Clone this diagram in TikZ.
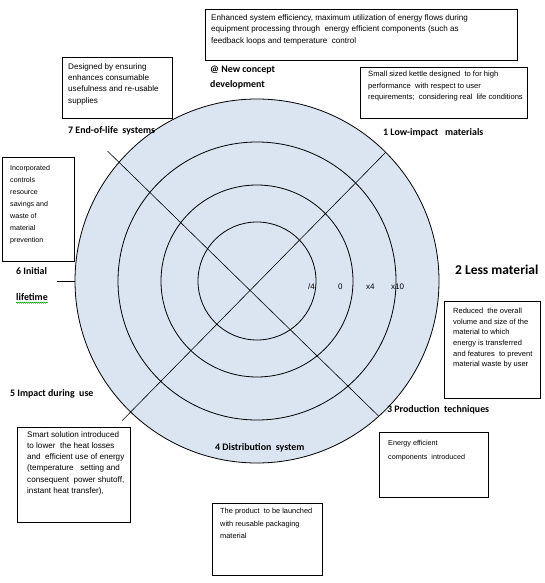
\documentclass[tikz,border=0pt]{standalone}
\usepackage{fontspec}
\setmainfont{Liberation Sans}
\newfontfamily\labfont{Carlito}
\usetikzlibrary{calc,decorations.pathmorphing}
\definecolor{ringfill}{HTML}{DBE5F1}
\begin{document}
\begin{tikzpicture}[x=1pt,y=-1pt,
  box/.style={draw=black, line width=0.8pt},
  btext/.style={anchor=north west, align=left, inner sep=0pt, font=\fontsize{7.6}{11.5}\selectfont},
  lab/.style={anchor=west, inner sep=0pt, font=\labfont\bfseries\fontsize{9.9}{11}\selectfont},
  biglab/.style={anchor=west, inner sep=0pt, font=\labfont\bfseries\fontsize{13.5}{15}\selectfont},
  scl/.style={anchor=west, inner sep=0pt, font=\fontsize{8}{10}\selectfont},
  ring/.style={circle, draw=black, line width=0.8pt, fill=ringfill, inner sep=0pt, outer sep=0pt},
  spoke/.style={draw=black, line width=0.6pt}]
\useasboundingbox (0,0) rectangle (544,583);
\coordinate (c) at (257,281);
% rings
\node[ring, minimum size=364pt] (r4) at (c) {};
\node[ring, minimum size=278pt] (r3) at (c) {};
\node[ring, minimum size=192pt] (r2) at (c) {};
\node[ring, minimum size=118pt] (r1) at (c) {};
% spokes
\coordinate (s7) at ($(c)+(134:194)$);
\coordinate (s3) at ($(c)+(-45:182)$);
\coordinate (s1) at ($(c)+(48:182)$);
\coordinate (s5) at ($(c)+(-139:198)$);
\draw[spoke] (s7) -- (s3);
\draw[spoke] (s1) -- (s5);
\coordinate (t6a) at (57,281);
\draw[spoke] (t6a) -- (r4.west);
% scale labels
\node[scl] (k1) at (308,287) {/4};
\node[scl] (k2) at (338,287) {0};
\node[scl] (k3) at (366,287) {x4};
\node[scl] (k4) at (391,287) {x10};
% axis labels
\node[lab, align=left, font=\labfont\bfseries\fontsize{9.9}{15}\selectfont, anchor=north west] (l0) at (210,66) {@ New concept\\development};
\node[lab] (l7) at (68,131) {7 End-of-life\ \ systems};
\node[lab] (l1) at (383,133) {1 Low-impact\ \ \ materials};
\node[lab] (l6a) at (16,271) {6 Initial};
\node[lab] (l6b) at (16,297) {lifetime};
\draw[green!60!black, line width=0.5pt, decorate, decoration={snake, amplitude=0.6pt, segment length=2pt}] ($(l6b.south west)+(0,2)$) -- ($(l6b.south east)+(0,2)$);
\node[biglab] (l2) at (455,270) {2 Less material};
\node[lab] (l5) at (10,394) {5 Impact\ during\ \ use};
\node[lab] (l3) at (387,410) {3 Production\ \ techniques};
\node[lab] (l4) at (215,448) {4 Distribution\ \ system};
% boxes
\draw[box] (205,9) rectangle (517,60);
\node[btext, font=\fontsize{8.1}{11.6}\selectfont] (t1) at (211,14) {Enhanced system efficiency, maximum utilization of energy flows during\\equipment processing through\ \ energy efficient components (such as\\feedback loops and temperature\ \ control};
\draw[box] (62,57) rectangle (172,118);
\node[btext, font=\fontsize{8.1}{11.4}\selectfont] (t2) at (68,63) {Designed by ensuring\\enhances consumable\\usefulness and re-usable\\supplies};
\draw[box] (360,67) rectangle (527,118);
\node[btext] (t3) at (368,71) {Small sized kettle designed\ \ to for high\\performance\ \ with respect to user\\requirements;\ \ considering real\ \ life conditions};
\draw[box] (2,157) rectangle (74,261);
\node[btext, font=\fontsize{7.1}{12}\selectfont] (t4) at (10,165) {Incorporated\\controls\\resource\\savings and\\waste of\\material\\prevention};
\draw[box] (444,301) rectangle (540,398);
\node[btext, font=\fontsize{7.5}{10.6}\selectfont] (t5) at (453,308) {Reduced\ \ the overall\\volume and size of the\\material to which\\energy is transferred\\and features\ \ to prevent\\material waste by user};
\draw[box] (17,427) rectangle (130,522);
\node[btext, font=\fontsize{8.1}{11.3}\selectfont] (t6) at (27,431) {Smart solution introduced\\to lower\ \ the heat losses\\and\ \ efficient use of energy\\(temperature\ \ \ setting and\\consequent\ \ power shutoff,\\instant heat transfer),};
\draw[box] (379,432) rectangle (488,497);
\node[btext, font=\fontsize{7.2}{14}\selectfont] (t7) at (388,440) {Energy efficient\\components\ \ introduced};
\draw[box] (212,503) rectangle (322,575);
\node[btext, font=\fontsize{7.4}{12.5}\selectfont] (t8) at (220,508) {The product\ \ to be launched\\with reusable packaging\\material};
\end{tikzpicture}
\end{document}
